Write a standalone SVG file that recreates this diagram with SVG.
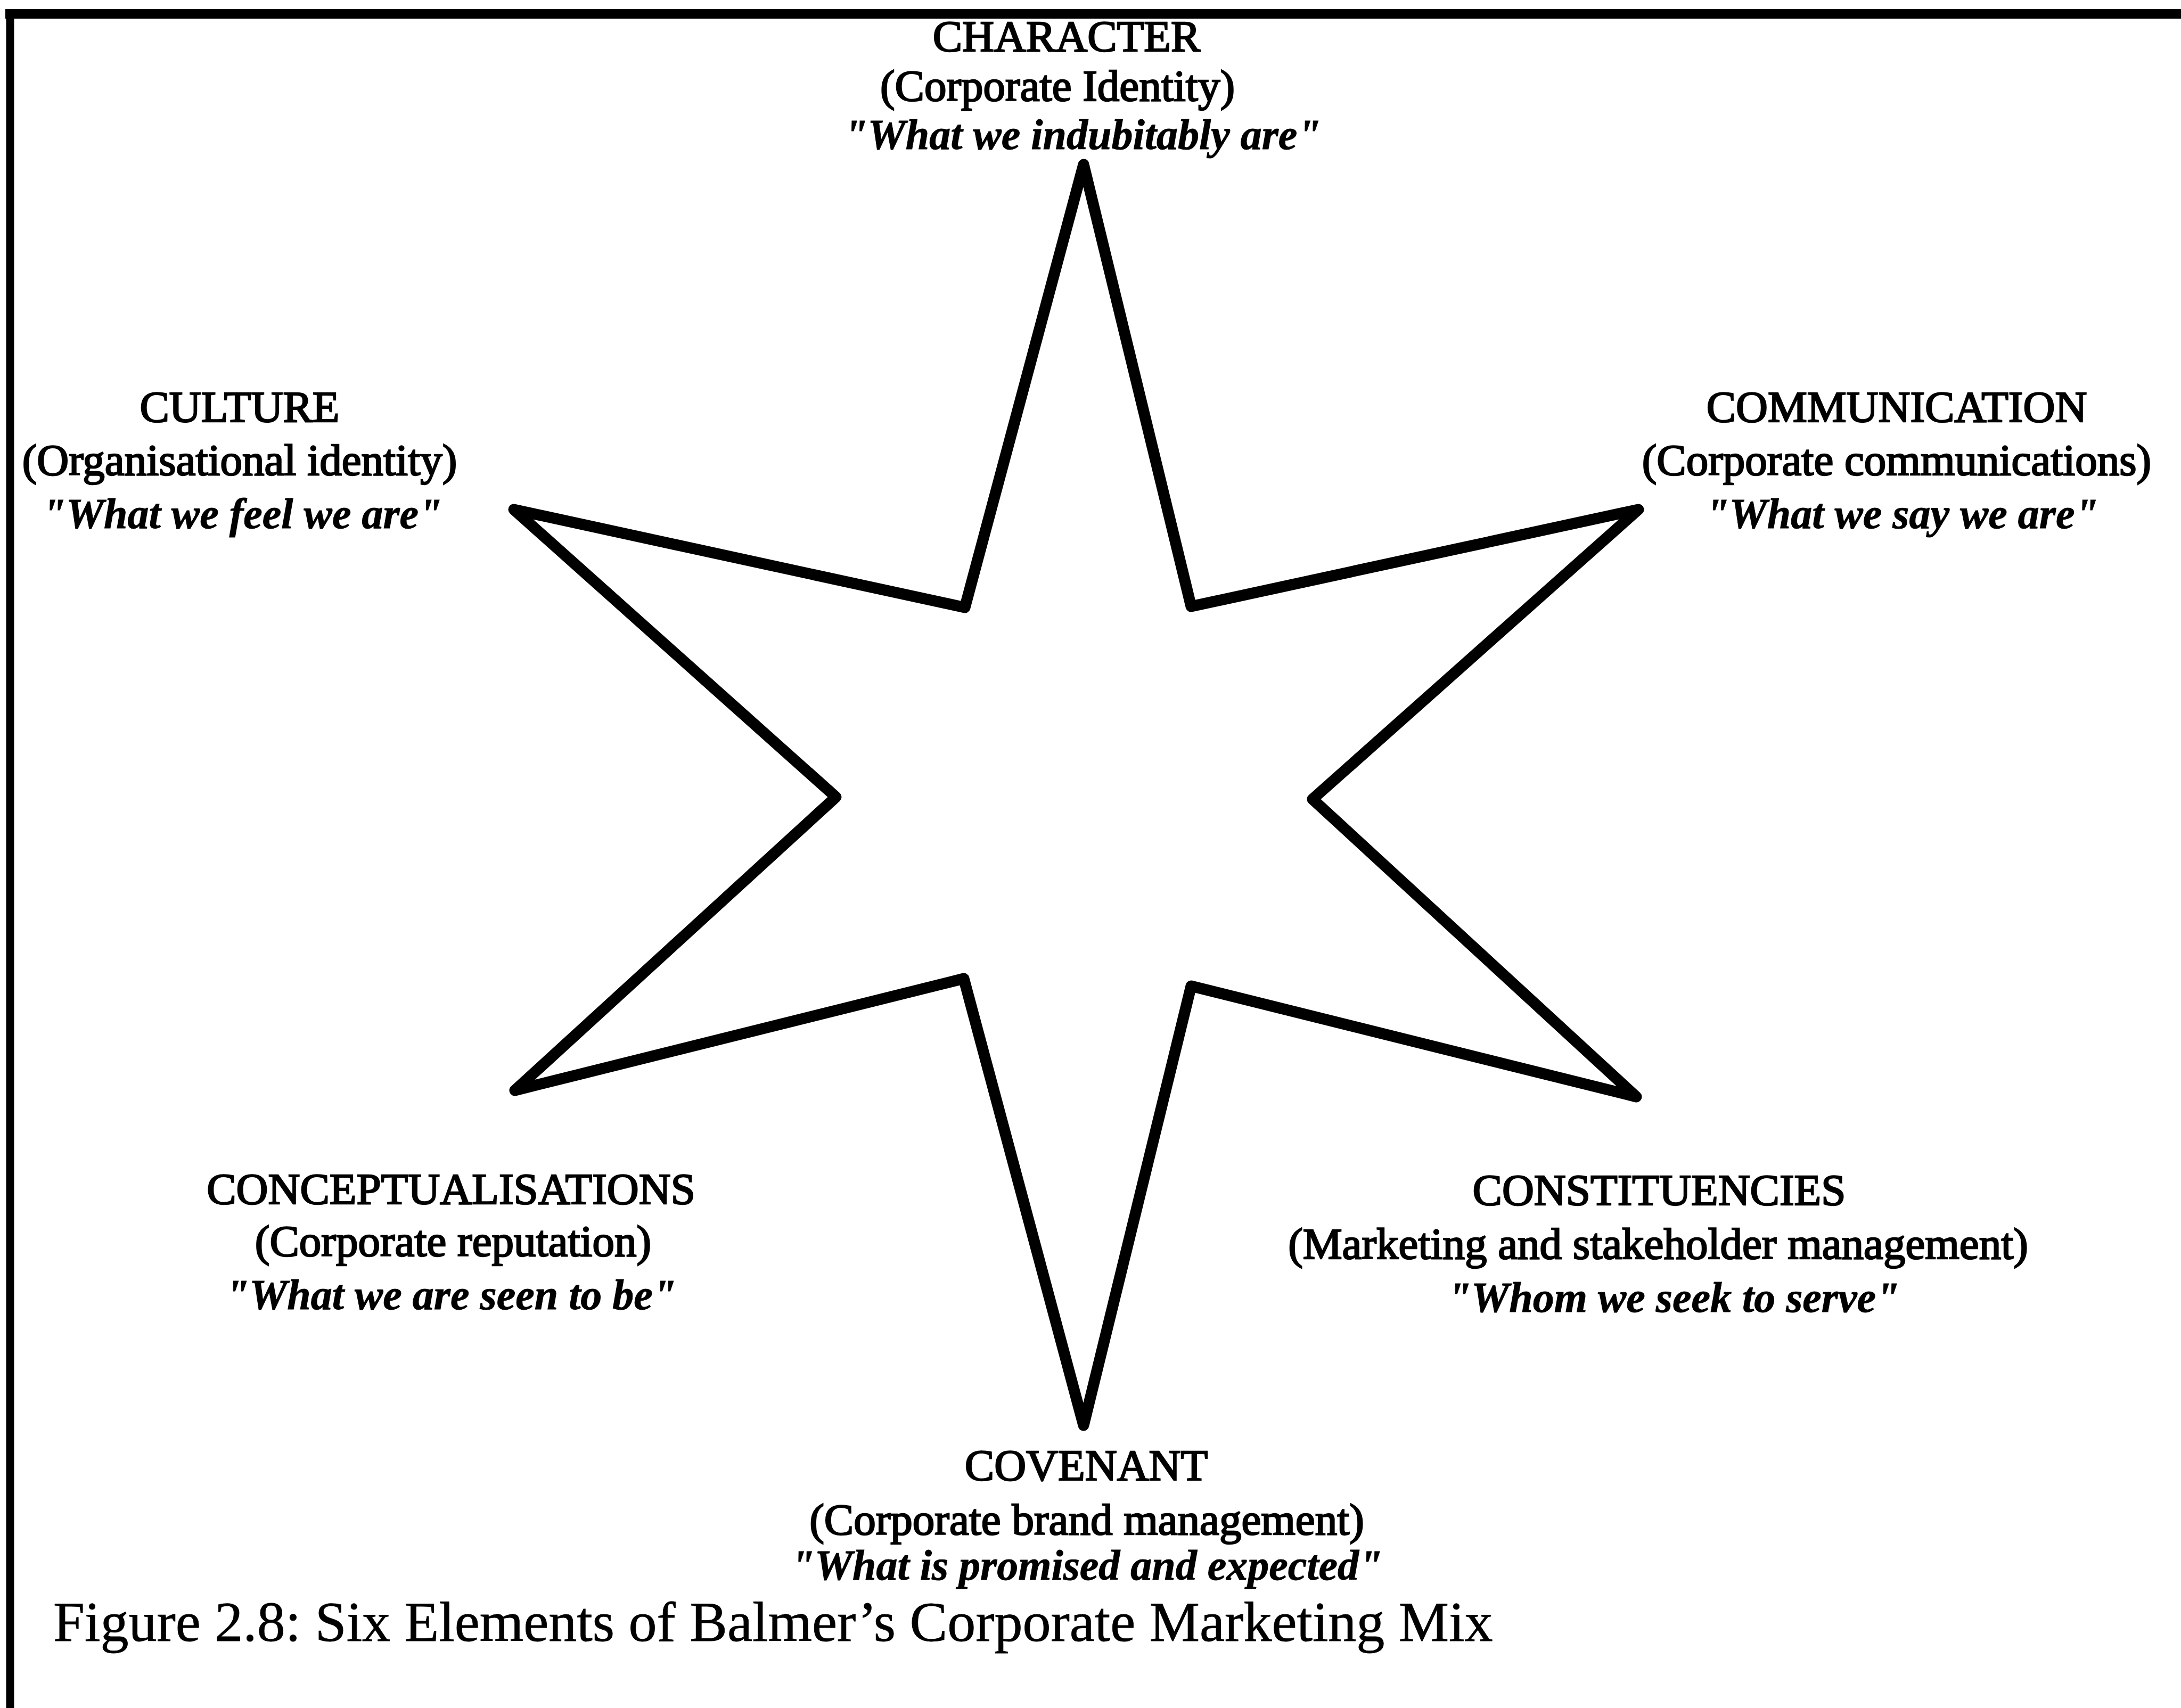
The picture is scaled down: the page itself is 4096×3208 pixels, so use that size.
<svg xmlns="http://www.w3.org/2000/svg" width="4096" height="3208" viewBox="0 0 4096 3208">
<style>
  text { font-family: "Liberation Serif", "Times New Roman", serif; fill: #000; text-anchor: middle; }
  .t { font-size: 83px; stroke: #000; stroke-width: 2.5; }
  .q { font-size: 80px; font-weight: bold; font-style: italic; stroke: #000; stroke-width: 1; }
  .cap { font-size: 106px; text-anchor: start; stroke: #000; stroke-width: 0.8; }
  .border { stroke: #000; fill: none; }
  .star { fill: #fff; stroke: #000; stroke-width: 21; stroke-linejoin: round; }
</style>
<rect x="0" y="0" width="4096" height="3208" fill="#fff"/>
<g id="frame">
  <line class="border" x1="10" y1="26" x2="4096" y2="26" stroke-width="18"/>
  <line class="border" x1="19" y1="17" x2="19" y2="3208" stroke-width="15"/>
</g>
<g id="star">
  <polygon class="star" points="2035,309 2237,1139 3077,957 2465,1501 3073,2060 2237,1852 2035,2677 1810,1838 967,2048 1570,1497 965,957 1812,1141"/>
</g>
<g id="character">
  <text class="t" x="2003" y="96">CHARACTER</text>
  <text class="t" x="1986" y="189">(Corporate Identity)</text>
  <text class="q" x="2033" y="280">"What we indubitably are"</text>
</g>
<g id="culture">
  <text class="t" x="450" y="792">CULTURE</text>
  <text class="t" x="450" y="892">(Organisational identity)</text>
  <text class="q" x="455" y="992">"What we feel we are"</text>
</g>
<g id="communication">
  <text class="t" x="3562" y="792">COMMUNICATION</text>
  <text class="t" x="3562" y="892">(Corporate communications)</text>
  <text class="q" x="3572" y="992">"What we say we are"</text>
</g>
<g id="conceptualisations">
  <text class="t" x="847" y="2261">CONCEPTUALISATIONS</text>
  <text class="t" x="851" y="2359">(Corporate reputation)</text>
  <text class="q" x="847" y="2459">"What we are seen to be"</text>
</g>
<g id="constituencies">
  <text class="t" x="3116" y="2263">CONSTITUENCIES</text>
  <text class="t" x="3114" y="2364">(Marketing and stakeholder management)</text>
  <text class="q" x="3143" y="2464">"Whom we seek to serve"</text>
</g>
<g id="covenant">
  <text class="t" x="2040" y="2780">COVENANT</text>
  <text class="t" x="2041" y="2882">(Corporate brand management)</text>
  <text class="q" x="2041" y="2967">"What is promised and expected"</text>
</g>
<g id="caption">
  <text class="cap" x="100" y="3082">Figure 2.8: Six Elements of Balmer’s Corporate Marketing Mix</text>
</g>
</svg>
